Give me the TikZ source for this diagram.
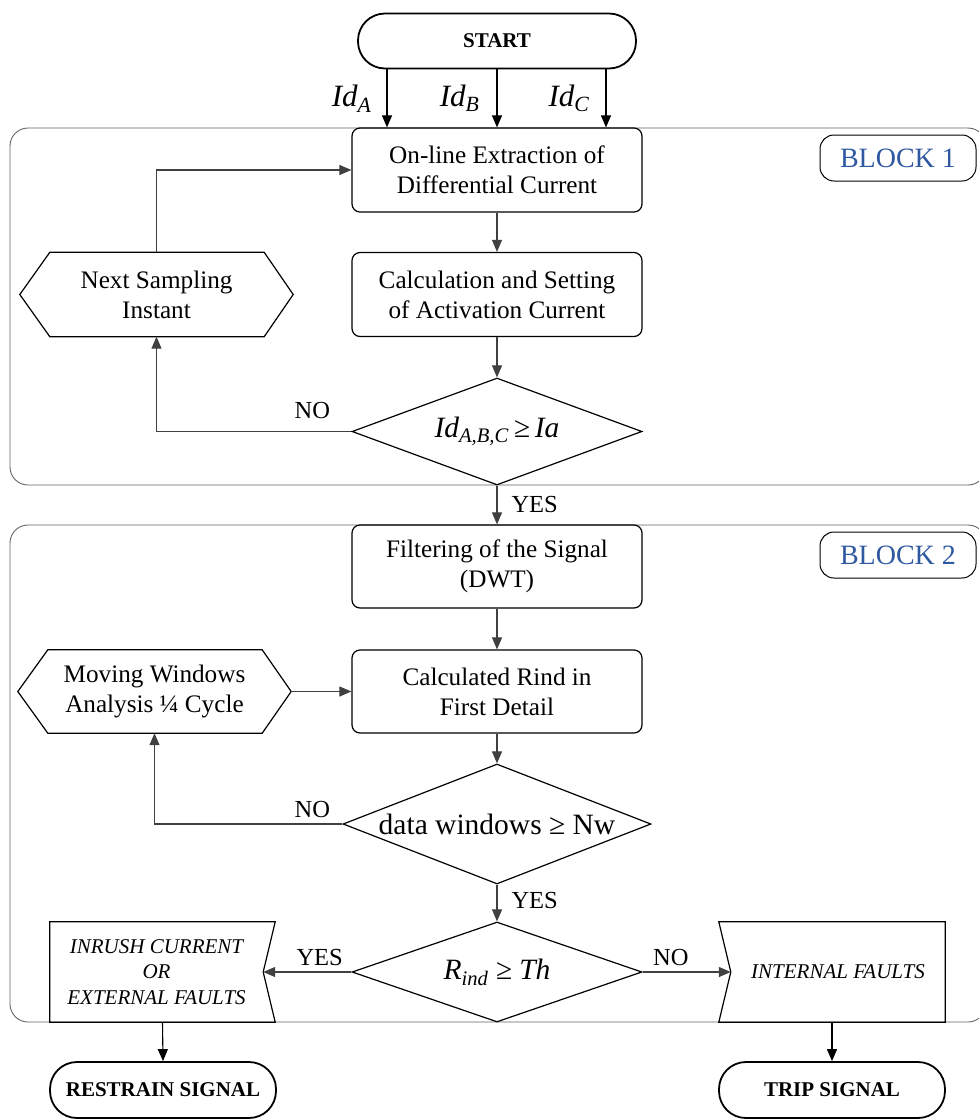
\documentclass[tikz,border=0pt]{standalone}
\usepackage{fontspec}
\setmainfont{Liberation Serif}
\usetikzlibrary{arrows.meta,calc,shapes.geometric}
\definecolor{linegray}{RGB}{64,64,64}
\definecolor{blockgray}{RGB}{100,100,100}
\definecolor{blockblue}{RGB}{46,88,160}

\begin{document}
\begin{tikzpicture}[x=1pt,y=-1pt,
  font=\fontsize{25.2}{30}\selectfont,
  flowarrow/.style={draw=linegray,line width=1.1pt,-{Triangle[length=12pt,width=10pt]}},
  mainarrow/.style={draw=black,line width=1.1pt,-{Triangle[length=12pt,width=10pt]}},
  shapeline/.style={draw=black,line width=1.2pt},
  process/.style={shapeline,rounded corners=8pt,minimum width=290pt,minimum height=84pt,align=center,inner sep=0pt},
  terminal/.style={draw=black,line width=1.8pt,rounded corners=27pt,minimum height=55pt,inner sep=0pt,font=\fontsize{21}{25}\selectfont\bfseries},
  decision/.style={shapeline,diamond,aspect=2.7,inner sep=0pt,font=\fontsize{29.5}{33}\selectfont},
  hexbox/.style={minimum width=273pt,minimum height=84pt,align=center,inner sep=0pt},
  outbox/.style={minimum width=213pt,minimum height=100pt,align=center,inner sep=0pt,font=\fontsize{21}{25.5}\selectfont\itshape},
  blockframe/.style={draw=blockgray,line width=0.9pt,rounded corners=18pt},
  blocktag/.style={draw=black,line width=1pt,rounded corners=14pt,minimum width=156pt,minimum height=46pt,inner sep=0pt,text=blockblue,font=\fontsize{28}{32}\selectfont},
  arrowlabel/.style={font=\fontsize{24.5}{28}\selectfont,inner sep=0pt},
  phaselabel/.style={midway,left,inner sep=0pt,font=\fontsize{31}{35}\selectfont\itshape}
]
  \useasboundingbox (0,0) rectangle (978,1120);

  % blocks
  \draw[blockframe] (10,128) rectangle (986,485);
  \draw[blockframe] (10,525) rectangle (986,1022);
  \node[blocktag] (tag1) at (898,158) {BLOCK 1};
  \node[blocktag] (tag2) at (898,555) {BLOCK 2};

  % nodes
  \node[terminal,minimum width=278pt] (start) at (497,41) {START};
  \node[process] (extract) at (497,170) {On-line Extraction of\\Differential Current};
  \node[process] (activ) at (497,294.5) {Calculation and Setting\\of Activation Current};
  \node[decision,minimum width=290pt,minimum height=107pt] (check1) at (497,431.5)
    {{\itshape Id\textsubscript{A,B,C}\,≥\,Ia}};
  \node[hexbox] (nextsamp) at (156.5,294.5) {Next Sampling\\Instant};

  \node[process,minimum height=83pt] (filter) at (497,566.5) {Filtering of the Signal\\(DWT)};
  \node[process,minimum height=83pt] (rind) at (497,691.5) {Calculated Rind in\\First Detail};
  \node[hexbox,minimum height=83pt] (moving) at (154.5,691.5) {Moving Windows\\Analysis ¼ Cycle};
  \node[decision,aspect=2.57,minimum width=308pt,minimum height=120pt] (check2) at (497,824)
    {data windows ≥ Nw};
  \node[decision,minimum width=290pt,minimum height=100pt] (check3) at (497,972)
    {{\itshape R\textsubscript{ind} ≥ Th}};

  % output boxes: the node spans from the straight side to the notch
  \node[outbox] (inrush) at (156.5,972) {INRUSH CURRENT\\OR\\EXTERNAL FAULTS};
  \node[outbox,minimum width=214pt] (internal) at (838,972) {INTERNAL FAULTS};
  \node[terminal,minimum width=226pt,minimum height=56pt] (restrain) at (163,1090) {RESTRAIN SIGNAL};
  \node[terminal,minimum width=226pt,minimum height=56pt] (trip) at (832,1090) {TRIP SIGNAL};

  % outlines of hexagons and output boxes
  \foreach \hx in {nextsamp,moving}
    \draw[shapeline] (\hx.west) -- ($(\hx.north west)+(30,0)$) -- ($(\hx.north east)+(-29,0)$)
      -- (\hx.east) -- ($(\hx.south east)+(-29,0)$) -- ($(\hx.south west)+(30,0)$) -- cycle;
  \draw[shapeline] (inrush.north west) -- ($(inrush.north east)+(12,0)$) -- (inrush.east)
    -- ($(inrush.south east)+(12,0)$) -- (inrush.south west) -- cycle;
  \draw[shapeline] ($(internal.north west)+(-12,0)$) -- (internal.north east) -- (internal.south east)
    -- ($(internal.south west)+(-12,0)$) -- (internal.west) -- cycle;

  % connectors
  \draw[mainarrow] ($(start.south)+(-110,0)$) -- ($(extract.north)+(-110,0)$)
    node[phaselabel,xshift=-15pt] {Id\textsubscript{A}};
  \draw[mainarrow] (start.south) -- (extract.north)
    node[phaselabel,xshift=-17pt] {Id\textsubscript{B}};
  \draw[mainarrow] ($(start.south)+(109,0)$) -- ($(extract.north)+(109,0)$)
    node[phaselabel,xshift=-16pt] {Id\textsubscript{C}};
  \draw[flowarrow] (extract) -- (activ);
  \draw[flowarrow] (activ) -- (check1);
  \draw[flowarrow] (check1.west) -| (nextsamp.south)
    node[arrowlabel,pos=0.1,above,yshift=12pt] {NO};
  \draw[flowarrow] (nextsamp.north) |- (extract.west);
  \draw[flowarrow] (check1.south) -- (filter.north)
    node[arrowlabel,midway,right,xshift=14pt] {YES};
  \draw[flowarrow] (filter) -- (rind);
  \draw[flowarrow] (moving.east) -- (rind.west);
  \draw[flowarrow] (rind) -- (check2);
  \draw[flowarrow] (check2.west) -| (moving.south)
    node[arrowlabel,pos=0.08,above,yshift=6pt] {NO};
  \draw[flowarrow] (check2.south) -- (check3.north)
    node[arrowlabel,midway,right,xshift=14pt,yshift=3pt] {YES};
  \draw[flowarrow] (check3.west) -- (inrush.east)
    node[arrowlabel,pos=0.36,above,yshift=6pt] {YES};
  \draw[flowarrow] (check3.east) -- (internal.west)
    node[arrowlabel,pos=0.32,above,yshift=6pt] {NO};
  \draw[mainarrow] ($(inrush.south)+(6,0)$) -- (restrain.north);
  \draw[mainarrow] ($(internal.south)+(-6,0)$) -- (trip.north);
\end{tikzpicture}
\end{document}
